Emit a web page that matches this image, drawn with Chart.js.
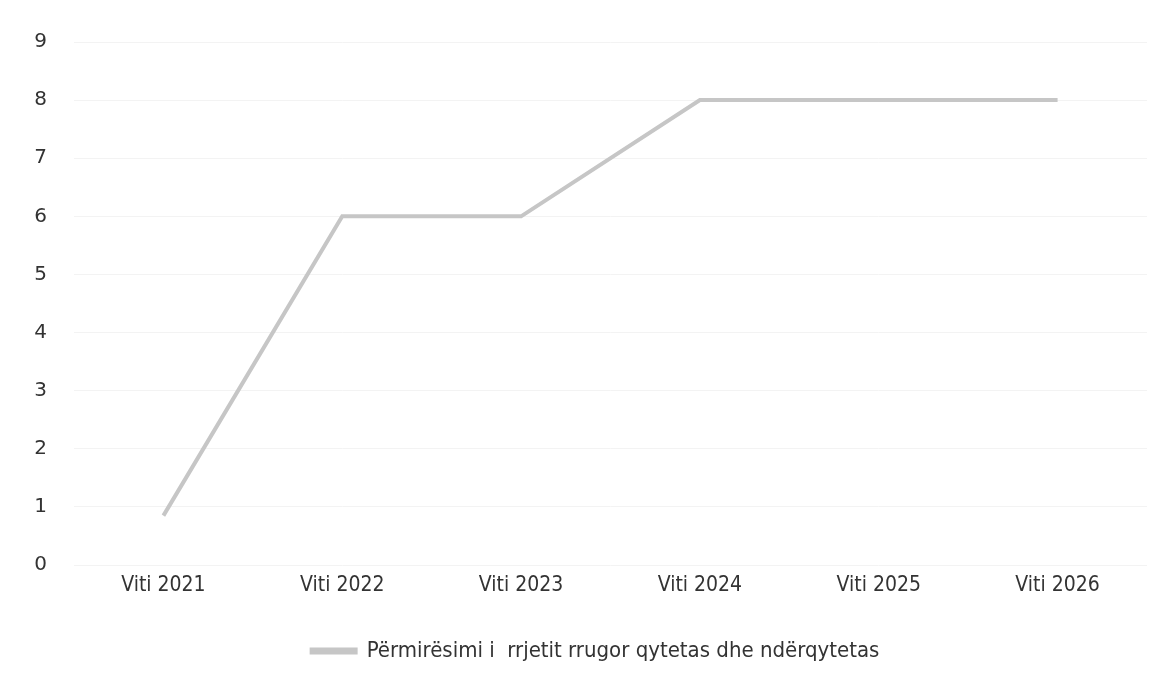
<!DOCTYPE html>
<html>
<head>
<meta charset="utf-8">
<script src="https://cdn.jsdelivr.net/npm/chart.js@4.4.1/dist/chart.umd.min.js"></script>
<style>
  html, body { margin: 0; padding: 0; background: #fff; }
  #wrap { width: 1163px; height: 680px; position: relative; }
</style>
</head>
<body>
<div id="wrap"><canvas id="myChart"></canvas></div>
<script>
const years = ['Viti 2021', 'Viti 2022', 'Viti 2023', 'Viti 2024', 'Viti 2025', 'Viti 2026'];
const roadValues = [0.85, 6, 6, 8, 8, 8];
const seriesLabel = 'Përmirësimi i  rrjetit rrugor qytetas dhe ndërqytetas';

const ctx = document.getElementById('myChart');

// nudge the legend a bit to the right, like in the original
const legendShift = {
  id: 'legendShift',
  afterLayout(chart) {
    chart.legend.left += 22;
    chart.legend.right += 22;
  }
};

new Chart(ctx, {
  type: 'line',
  data: {
    labels: years,
    datasets: [{
      label: seriesLabel,
      data: roadValues,
      borderColor: '#c6c6c6',
      backgroundColor: '#c6c6c6',
      borderWidth: 4,
      pointRadius: 0,
      tension: 0
    }]
  },
  options: {
    responsive: true,
    maintainAspectRatio: false,
    animation: false,
    layout: { padding: { top: 42, right: 16, bottom: 8, left: 0 } },
    scales: {
      x: {
        offset: true,
        grid: { display: false },
        border: { display: false },
        ticks: {
          color: '#333',
          font: { family: 'DejaVu Sans Condensed', size: 21 },
          padding: 0
        },
        afterFit: (axis) => { axis.height = 55; }
      },
      y: {
        min: 0,
        max: 9,
        grid: { color: '#f3f3f3', drawTicks: false },
        border: { display: false },
        ticks: {
          stepSize: 1,
          color: '#333',
          font: { family: 'DejaVu Sans', size: 20 },
          padding: 27
        },
        afterFit: (axis) => { axis.width = 74; }
      }
    },
    plugins: {
      legend: {
        position: 'bottom',
        labels: {
          color: '#333',
          font: { family: 'DejaVu Sans Condensed', size: 22 },
          boxWidth: 44,
          boxHeight: 3,
          padding: 20
        }
      },
      tooltip: { enabled: false }
    }
  },
  plugins: [legendShift]
});
</script>
</body>
</html>
